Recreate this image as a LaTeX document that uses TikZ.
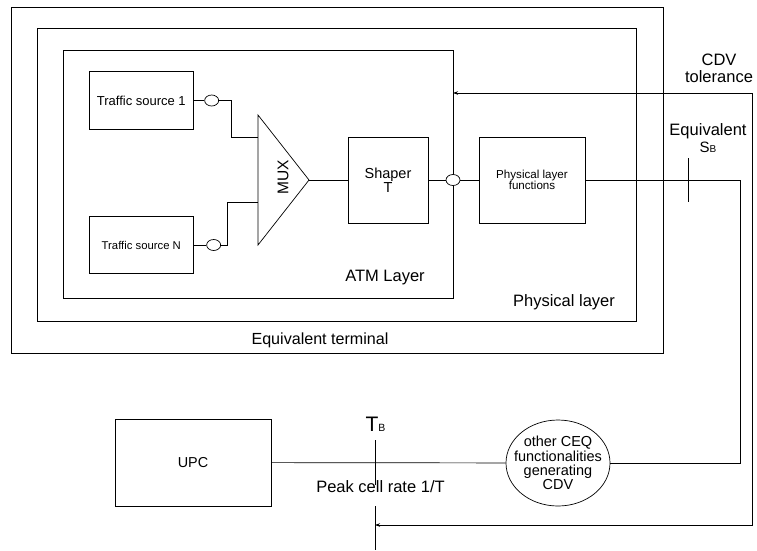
\documentclass[tikz,border=0pt]{standalone}
\usepackage{fontspec}
\setmainfont{Liberation Sans}
\usetikzlibrary{arrows.meta,positioning,shapes.geometric,calc}

\begin{document}
\begin{tikzpicture}[
        x=1pt, y=-1pt,
        line width=0.7pt,
        layerbox/.style={draw, inner sep=0pt, outer sep=0pt},
        block/.style={draw, inner sep=0pt, outer sep=0pt, align=center},
        port/.style={ellipse, draw, fill=white, inner sep=0pt, minimum width=14pt, minimum height=11pt},
        biglabel/.style={font=\fontsize{16.5pt}{17pt}\selectfont, align=center},
        cdvarrow/.style={{Stealth[length=5pt,width=3.5pt]}-{Stealth[length=5pt,width=3.5pt]}}
    ]
        \useasboundingbox (0,0) rectangle (757,550);

        % Nested layer boxes
        \node[layerbox, minimum width=652pt, minimum height=346pt] (term) at (337,180) {};
        \node[layerbox, minimum width=599pt, minimum height=293pt] (phy) at (336.5,174.5) {};
        \node[layerbox, minimum width=390pt, minimum height=248pt] (atm) at (258,174) {};

        % Layer labels
        \node[biglabel, font=\fontsize{16.1pt}{17pt}\selectfont] (termlbl) at (320,340) {Equivalent terminal};
        \node[biglabel] (phylbl) at (564,302) {Physical layer};
        \node[biglabel] (atmlbl) at (385,278) {ATM Layer};

        % Traffic sources and their ports
        \node[block, minimum width=104pt, minimum height=58pt, font=\fontsize{13pt}{13pt}\selectfont] (src1) at (141.3,100.5) {Traffic source 1};
        \node[block, minimum width=104pt, minimum height=57pt, font=\fontsize{11.3pt}{11pt}\selectfont] (srcN) at (141.3,245) {Traffic source N};
        \node[port, right=11pt of src1] (p1) {};
        \node[port, right=13pt of srcN] (pN) {};

        % Multiplexer
        \coordinate (muxtop) at (258,115);
        \coordinate (muxbot) at (258,245);
        \coordinate (muxout) at (309,180);
        \coordinate (mux1) at (258,137);
        \coordinate (muxN) at (258,202);
        \draw (muxtop) -- (muxout) -- (muxbot) -- cycle;
        \node[rotate=90, font=\fontsize{15.5pt}{15pt}\selectfont] (muxlbl) at (283,177) {MUX};

        % Shaper and physical layer functions
        \node[block, minimum width=80pt, minimum height=86pt, font=\fontsize{14.5pt}{14pt}\selectfont] (shaper) at (388,180) {Shaper\\T};
        \node[block, minimum width=106pt, minimum height=86pt, font=\fontsize{11.6pt}{11pt}\selectfont] (plf) at (532,180) {Physical layer\\functions};
        \node[port] (pout) at (453,180) {};

        % Cell flow inside the terminal
        \draw (src1) -- (p1);
        \draw (srcN) -- (pN);
        \draw (p1.east) -- ++(12,0) |- (mux1);
        \draw (pN.east) -- ++(6,0) |- (muxN);
        \draw (muxout) -- (shaper);
        \draw (shaper) -- (pout);
        \draw (pout) -- (plf);

        % Bottom row
        \node[block, minimum width=156pt, minimum height=87pt, font=\fontsize{14.4pt}{14pt}\selectfont] (upc) at (193,462.5) {UPC};
        \node[ellipse, draw, inner sep=0pt, minimum width=104pt, minimum height=86pt] (ceq) at (558,463) {};
        \node[align=center, font=\fontsize{14.5pt}{14.2pt}\selectfont] (ceqtxt) at (ceq.center) {other CEQ\\functionalities\\generating\\CDV};
        \draw (upc) -- (ceq);

        % Link from the terminal down to the CEQ functions
        \coordinate (sbcorner) at (740,180);
        \draw (plf) -- (sbcorner) |- (ceq);

        % Equivalent S_B reference point
        \coordinate (sbtop) at (688,158);
        \coordinate (sbbot) at (688,202);
        \draw (sbtop) -- (sbbot);
        \node[biglabel] (sblbl) at (708,138.5) {Equivalent\\{\fontsize{15pt}{17pt}\selectfont S}{\fontsize{10pt}{17pt}\selectfont B}};

        % T_B reference point
        \coordinate (tbtop) at (375,440);
        \coordinate (tbmid) at (375,485);
        \coordinate (tblow) at (375,506);
        \coordinate (tbend) at (375,550);
        \draw (tbtop) -- (tbmid);
        \draw (tblow) -- (tbend);
        \node (tblbl) at (375.5,424) {{\fontsize{21pt}{21pt}\selectfont T}{\fontsize{10.5pt}{21pt}\selectfont B}};
        \node[biglabel] (peak) at (380.5,487) {Peak cell rate 1/T};

        % CDV tolerance feedback
        \coordinate (cdvtop) at (752,93);
        \coordinate (cdvbot) at (752,525);
        \coordinate (tbhit) at (375,525);
        \draw[cdvarrow] (cdvtop -| atm.east) -- (cdvtop) -- (cdvbot) -- (tbhit);
        \node[biglabel] (cdvlbl) at (719,68) {CDV\\tolerance};
    \end{tikzpicture}
\end{document}
